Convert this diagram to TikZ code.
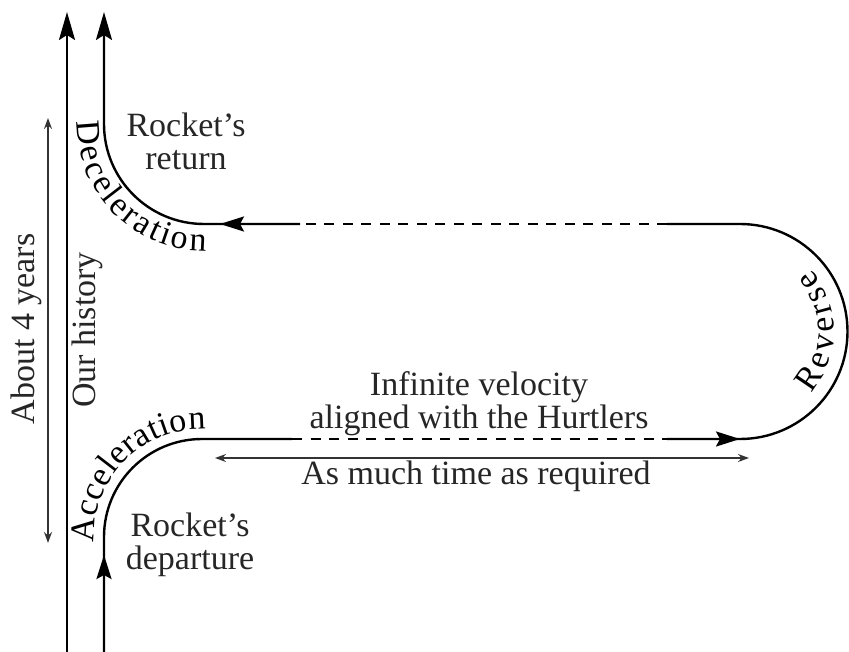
\documentclass[tikz,border=0pt]{standalone}
\usepackage{fontspec}
\setmainfont{Liberation Serif}
\usetikzlibrary{arrows.meta,decorations.text}
\newcommand{\lblfont}{\fontsize{34}{33}\selectfont}
\tikzset{
  worldline/.style={line width=2.4pt, black},
  bigtip/.style={-{Stealth[length=28pt,width=16pt,inset=5pt]}},
  midtip/.style={-{Stealth[length=24pt,width=15pt,inset=4pt]}},
  timespan/.style={line width=1.4pt, black!80, {Stealth[length=11pt,width=8pt]}-{Stealth[length=11pt,width=8pt]}},
  gap/.style={dash pattern=on 10pt off 8.5pt},
  txt/.style={font=\lblfont, align=center, text=black!85, inner sep=0pt},
}
\begin{document}
\begin{tikzpicture}[x=1pt,y=-1pt]
    \useasboundingbox (0,0) rectangle (849,652);

    % Our history
    \coordinate (E0) at (67,652);
    \coordinate (E1) at (67,12);
    \draw[worldline,bigtip] (E0) -- (E1);
    \node[txt,rotate=90] (history) at (87,330) {Our history};

    % About 4 years
    \coordinate (Y0) at (48,118);
    \coordinate (Y1) at (48,543);
    \draw[timespan] (Y0) -- (Y1);
    \node[txt,rotate=90] (years) at (26,329) {About 4 years};

    % Rocket's worldline
    \coordinate (R0) at (104,652);
    \coordinate (A0) at (104,537);
    \coordinate (A1) at (202,439);
    \coordinate (F0) at (292,439);
    \coordinate (F1) at (667,439);
    \coordinate (T0) at (740,439);
    \coordinate (T1) at (740,224);
    \coordinate (B0) at (667,224);
    \coordinate (B1) at (300,224);
    \coordinate (D0) at (204,224);
    \coordinate (R1) at (104,12);
    \draw[worldline] (R0) -- (A0) arc[start angle=180,end angle=270,radius=98] -- (F0);
    \draw[worldline,gap] (F0) -- (F1);
    \draw[worldline] (F1) -- (T0) arc[start angle=90,end angle=-90,radius=107.5] -- (B0);
    \draw[worldline,gap] (B0) -- (B1);
    \draw[worldline,bigtip] (B1) -- (D0) arc[start angle=90,end angle=180,radius=100] -- (R1);

    % arrows along the way
    \draw[worldline,midtip] (104,610) -- (104,555);
    \draw[worldline,midtip] (680,439) -- (740,439);
    \draw[worldline,midtip] (280,224) -- (220,224);

    % Curved labels
    \path[decorate,decoration={text along path,text={|\lblfont|Acceleration},text align={fit to path}}]
        (202,537) ++(177:108) arc[start angle=177,end angle=272,radius=108];
    \path[decorate,decoration={text along path,text={|\lblfont|Deceleration},text align={fit to path}}]
        (204,124) ++(181:127) arc[start angle=181,end angle=89,radius=127];
    \path[decorate,decoration={text along path,text={|\lblfont|Reverse},text align={fit to path}}]
        (740,331.5) ++(41:94) arc[start angle=41,end angle=-41,radius=94];

    % Texts
    \node[txt] (ret) at (186,141) {Rocket’s\\return};
    \node[txt] (dep) at (190,545) {Rocket’s\\departure};
    \node[txt] (inf) at (479,404) {Infinite velocity\\aligned with the Hurtlers};

    % As much time as required
    \coordinate (S0) at (215,458);
    \coordinate (S1) at (749,458);
    \draw[timespan] (S0) -- (S1);
    \node[txt,anchor=base] (req) at (476,484) {As much time as required};
\end{tikzpicture}
\end{document}
